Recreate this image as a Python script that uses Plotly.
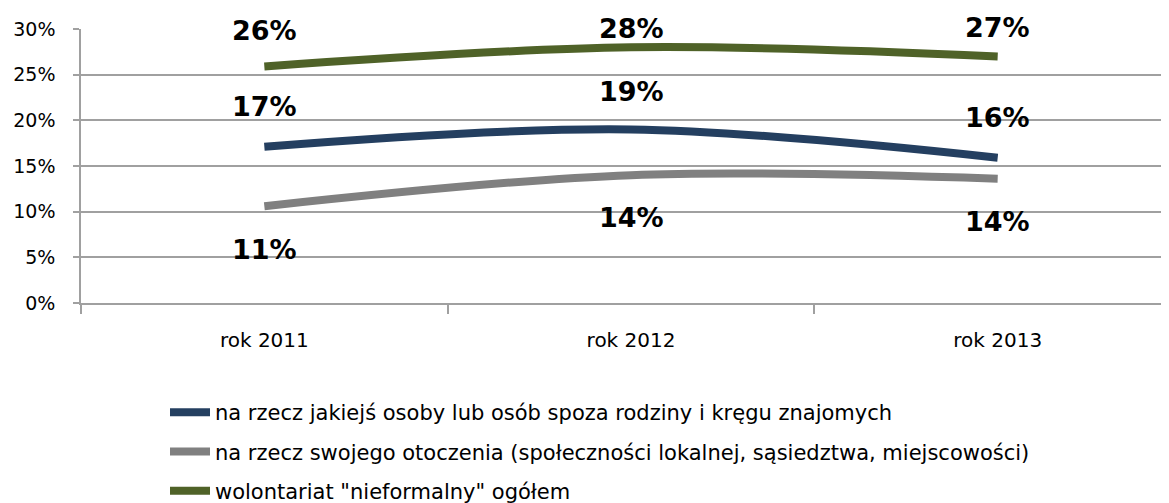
import plotly.graph_objects as go

categories = ["rok 2011", "rok 2012", "rok 2013"]
series_names = [
    "na rzecz jakiejś osoby lub osób spoza rodziny i kręgu znajomych",
    "na rzecz swojego otoczenia (społeczności lokalnej, sąsiedztwa, miejscowości)",
    'wolontariat "nieformalny" ogółem',
]
blue_vals = [17.1, 19.0, 15.9]
gray_vals = [10.6, 14.0, 13.6]
green_vals = [25.9, 28.0, 27.0]
y_ticks = [0, 5, 10, 15, 20, 25, 30]
y_tick_labels = ["0%", "5%", "10%", "15%", "20%", "25%", "30%"]

colors = ["#243F60", "#808080", "#4F6228"]
# label pixel offsets from points (style)
label_shifts = [[40, 38, 40], [-43, -42, -43], [36, 19, 29]]

FONT = "DejaVu Sans"
fig = go.Figure()
all_vals = [blue_vals, gray_vals, green_vals]
for i, (name, vals) in enumerate(zip(series_names, all_vals)):
    fig.add_trace(go.Scatter(
        x=categories, y=vals, name=name, mode="lines",
        line=dict(color=colors[i], width=8, shape="spline", smoothing=1.0),
        legendgroup=f"g{i}", hoverinfo="skip",
    ))
    for j, v in enumerate(vals):
        fig.add_annotation(
            x=categories[j], y=v, text=f"<b>{round(v):.0f}%</b>",
            showarrow=False, yshift=label_shifts[i][j],
            font=dict(family=FONT, size=27, color="#000000"),
        )

fig.update_layout(
    width=1169, height=503,
    margin=dict(l=73, r=0, t=21, b=207.5, autoexpand=False),
    paper_bgcolor="white", plot_bgcolor="white",
    font=dict(family=FONT, size=19, color="#000000"),
    showlegend=True,
    legend=dict(
        orientation="v", x=157 / 1169, xref="container", xanchor="left",
        y=0.0, yref="container", yanchor="bottom",
        font=dict(family=FONT, size=21, color="#000000"),
        traceorder="grouped", tracegroupgap=9,
        bgcolor="rgba(0,0,0,0)", itemwidth=40,
    ),
)
fig.update_xaxes(
    type="category", range=[-0.5, 2.489],
    showgrid=False, tickson="boundaries", ticks="outside", ticklen=9,
    tickcolor="#A0A0A0", tickwidth=1.5,
    showline=True, linecolor="#A0A0A0", linewidth=1.5,
    tickfont=dict(family=FONT, size=20), ticklabelstandoff=18,
)
fig.update_yaxes(
    range=[0, 30], tickvals=y_ticks, ticktext=y_tick_labels,
    showgrid=True, gridcolor="#A0A0A0", gridwidth=1.5,
    showline=True, linecolor="#A0A0A0", linewidth=1.5,
    ticks="outside", ticklen=6, tickcolor="#A0A0A0", tickwidth=1.5,
    zeroline=False, tickfont=dict(family=FONT, size=19),
    ticklabelstandoff=14,
)
fig.write_html("out.html")
